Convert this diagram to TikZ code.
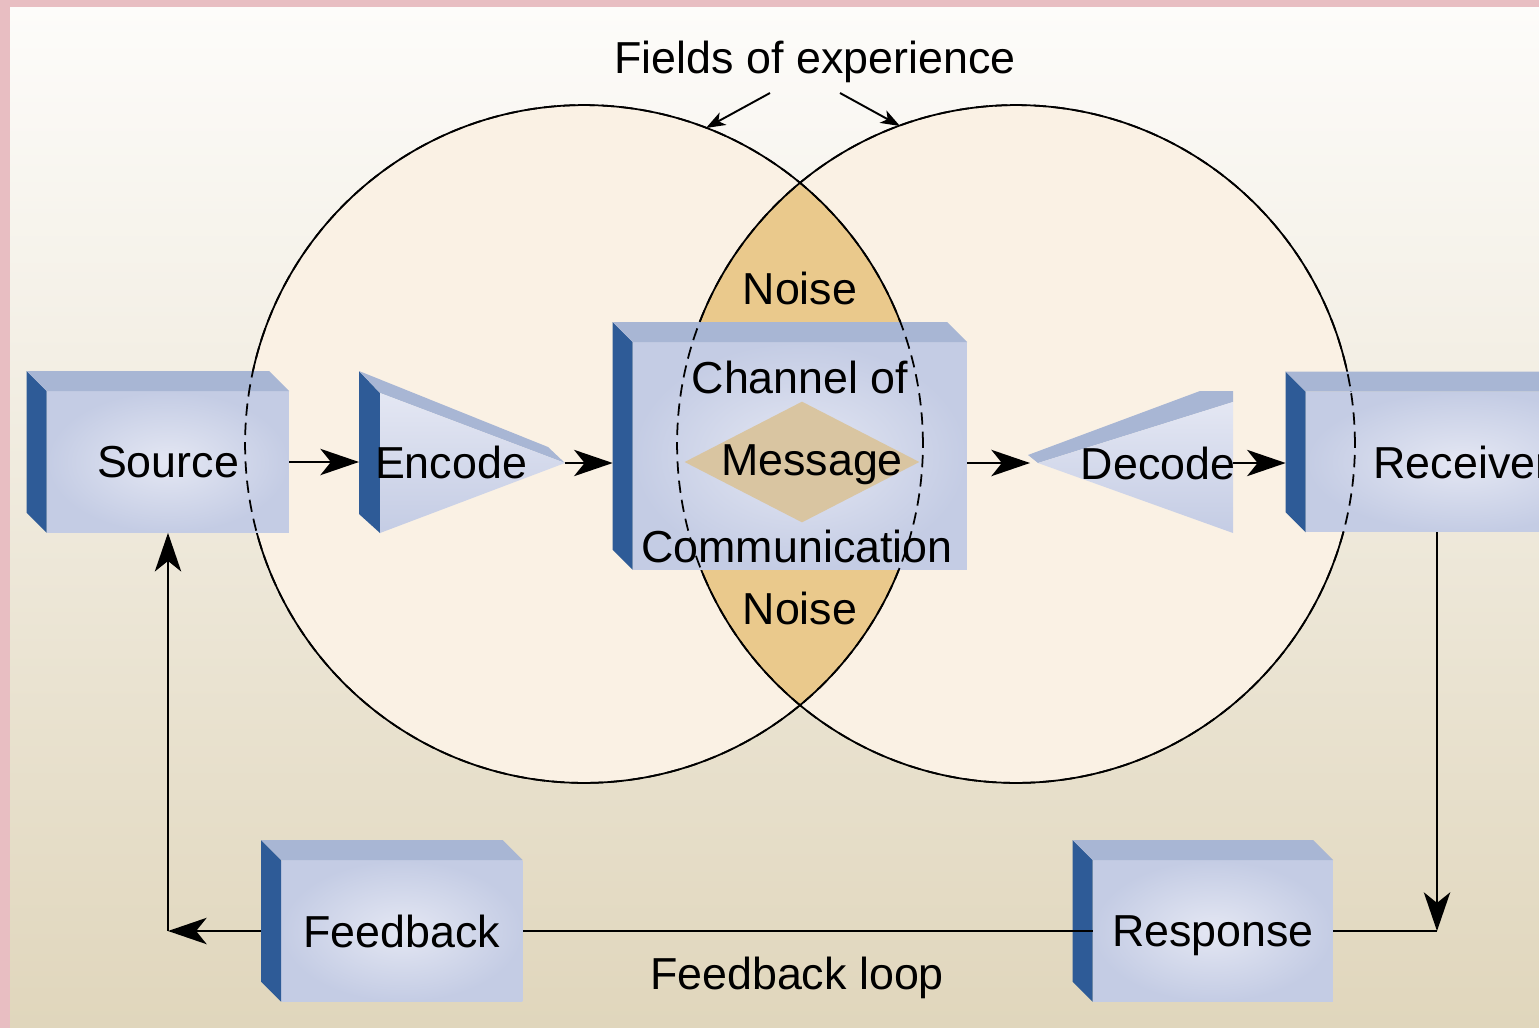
\documentclass[tikz,border=0pt]{standalone}
\usepackage{fontspec}
\setmainfont{Liberation Sans}
\usetikzlibrary{arrows.meta,shapes.geometric}

\definecolor{bgpink}{HTML}{E8BEC2}
\definecolor{bgtop}{HTML}{FDFCFA}
\definecolor{bgmid}{HTML}{F1EBDC}
\definecolor{bgbot}{HTML}{E0D6BC}
\definecolor{circfill}{HTML}{FAF1E4}
\definecolor{lensgold}{HTML}{EAC98C}
\definecolor{msgtan}{HTML}{D9C5A1}
\definecolor{sideblue}{HTML}{2E5B97}
\definecolor{topblue}{HTML}{A8B6D4}
\definecolor{frontin}{HTML}{E4E7F3}
\definecolor{frontout}{HTML}{C4CCE4}

\newcommand{\lblfont}{\fontsize{25.5pt}{30pt}\selectfont}

\begin{document}
\begin{tikzpicture}[x=0.02cm, y=-0.02cm, >={Stealth[length=22pt,width=15pt,inset=6pt]},
  font=\lblfont,
  frontface/.style={inner color=frontin, outer color=frontout, inner sep=0pt, text depth=0pt},
  sideface/.style={fill=sideblue},
  topface/.style={fill=topblue},
  lbl/.style={inner sep=0pt, text depth=0pt},
  conn/.style={line width=1.1pt},
  fieldline/.style={line width=1pt},
  dashfield/.style={line width=1pt, dash pattern=on 7pt off 4pt},
  smalltip/.style={-{Stealth[length=11pt,width=8pt,inset=3pt]}}]
\useasboundingbox (0,0) rectangle (1539,1028);
\fill [bgpink] (0,0) rectangle (1539,1028);
\shade [top color=bgtop, middle color=bgmid, bottom color=bgbot] (10,7) rectangle (1539,1028);

\coordinate (field-s) at (584,444);
\coordinate (field-r) at (1016,444);
\fill [circfill] (field-s) circle [radius=6.78cm];
\fill [circfill] (field-r) circle [radius=6.78cm];
\begin {scope}
  \clip (field-s) circle [radius=6.78cm];
  \fill [lensgold] (field-r) circle [radius=6.78cm];
\end {scope}
\draw [fieldline] (field-s) circle [radius=6.78cm];
\draw [fieldline] (field-r) circle [radius=6.78cm];

\node [frontface, minimum width=4.84cm, minimum height=2.82cm] (source) at (168,462) {Source\hspace{10pt}};
\node [frontface, minimum width=6.68cm, minimum height=4.54cm] (channel) at (800,456) {};
\node [frontface, minimum width=6.24cm, minimum height=2.8cm] (receiver) at (1462,462) {Receiver};
\node [frontface, minimum width=4.82cm, minimum height=2.82cm] (feedback) at (402,931) {Feedback};
\node [frontface, minimum width=4.8cm, minimum height=2.82cm] (response) at (1213,931) {Response};
\foreach \b in {source,channel,receiver,feedback,response} {
  \fill [sideface] (\b.north west) -- ([shift={(-20,-20)}]\b.north west)
    -- ([shift={(-20,-20)}]\b.south west) -- (\b.south west) -- cycle;
  \fill [topface] (\b.north west) -- ([shift={(-20,-20)}]\b.north west)
    -- ([shift={(-20,-20)}]\b.north east) -- (\b.north east) -- cycle;
}

\fill [sideface] (359,371) -- (380,393) -- (380,533) -- (359,514) -- cycle;
\fill [topface] (359,371) -- (548,447) -- (565,463) -- (380,393) -- cycle;
\shade [top color=frontin, bottom color=frontout] (380,393) -- (565,463) -- (380,533) -- cycle;
\node [lbl] (encode) at (451,462) {Encode};
\coordinate (enc-in) at (359,462);
\coordinate (enc-out) at (565,463);

\fill [topface] (1028,455) -- (1200,391) -- (1233,391) -- (1233,402) -- (1038,463) -- cycle;
\shade [top color=frontin, bottom color=frontout] (1038,463) -- (1233,402) -- (1233,533) -- cycle;
\node [lbl] (decode) at (1158,463) {Decode};
\coordinate (dec-in) at (1030,463);
\coordinate (dec-out) at (1233,463);

\node [diamond, fill=msgtan, minimum width=4.7cm, minimum height=2.42cm, inner sep=0pt] (message) at (802,462) {};
\node [lbl] (message-lbl) at (812,460) {Message};
\node [lbl] (chan-t) at (800,377) {Channel of};
\node [lbl] (chan-b) at (797,546) {Communication};

\draw [dashfield] (field-s) circle [radius=6.78cm];
\draw [dashfield] (field-r) circle [radius=6.78cm];

\node [lbl] (noise-t) at (800,288) {Noise};
\node [lbl] (noise-b) at (800,608) {Noise};
\node [lbl] (fields) at (815,57) {Fields of experience};
\coordinate (fe-l0) at (770,93);
\coordinate (fe-l1) at (706,128);
\coordinate (fe-r0) at (840,93);
\coordinate (fe-r1) at (900,126);
\draw [conn, smalltip] (fe-l0) -- (fe-l1);
\draw [conn, smalltip] (fe-r0) -- (fe-r1);

\coordinate (chan-l) at ([shift={(-20,0)}]channel.west);
\coordinate (rec-l) at ([shift={(-20,0)}]receiver.west);
\coordinate (fb-l) at ([shift={(-20,0)}]feedback.west);
\coordinate (turn-r) at (1437,931);
\coordinate (turn-l) at (168,931);
\draw [->, conn] (source) -- (enc-in);
\draw [->, conn] (enc-out) -- (enc-out -| chan-l);
\draw [->, conn] (channel.east |- dec-in) -- (dec-in);
\draw [->, conn] (dec-out) -- (dec-out -| rec-l);
\draw [->, conn] (receiver.south -| turn-r) -- (turn-r);
\draw [conn] (response) -- (turn-r);
\draw [conn] (response) -- (feedback);
\draw [->, conn] (fb-l) -- (turn-l);
\draw [->, conn] (turn-l) -- (source.south -| turn-l);
\node [lbl] (loop) at (797,973) {Feedback loop};
\end{tikzpicture}
\end{document}
